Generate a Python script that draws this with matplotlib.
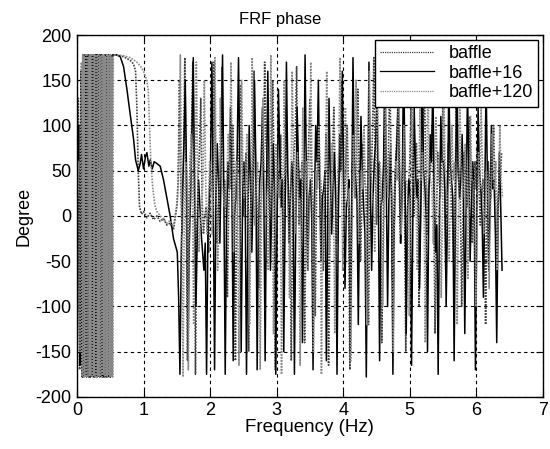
import numpy as np
import matplotlib
matplotlib.use("Agg")
import matplotlib.pyplot as plt

# ── Data ──────────────────────────────────────────────────────────────────────
series_names = ["baffle", "baffle+16", "baffle+120"]

# low-frequency wrap-around region: uniform grid starting near 0 Hz
low_step, low_count = 0.01, 55
low_starts = [0.000, 0.003, 0.006]
phase_low_baffle = [
    -10, 60, 130, -90, -170, 40, 150, -160, -178, 178, -176,
    177, -178, 178, -175, 178, -177, 176, -178, 178, -176, 178,
    -178, 177, -175, 178, -178, 178, -176, 178, -177, 178, -178,
    176, -177, 178, -175, 178, -178, 177, -176, 178, -178, 178,
    -177, 176, -178, 178, -176, 177, -178, 178, -175, 178, 178]
phase_low_b16 = [
    0, 40, 100, -60, -165, 80, 160, -140, -178, 176, -178,
    178, -174, 178, -178, 177, -176, 178, -178, 175, -178, 178,
    -177, 178, -178, 176, -178, 178, -175, 178, -178, 178, -176,
    178, -178, 177, -176, 178, -178, 175, -178, 178, -177, 178,
    -178, 176, -178, 178, -175, 178, -178, 177, -176, 178, 178]
phase_low_b120 = [
    20, 40, 60, -100, -150, 120, 170, -176, 178, -178, 176,
    -178, 178, -177, 178, -178, 175, -178, 178, -176, 178, -178,
    178, -177, 178, -176, 178, -178, 177, -178, 178, -176, 178,
    -178, 176, -177, 178, -178, 178, -175, 178, -178, 177, -176,
    178, -178, 178, -176, 178, -177, 178, -178, 176, -178, 178]

# smooth transition region
freq_mid_baffle = [0.60, 0.70, 0.80, 0.85, 0.88, 0.90, 0.92, 0.94, 0.97, 1.00, 1.05, 1.10,
                   1.15, 1.20, 1.25, 1.30, 1.35, 1.40, 1.45]
phase_mid_baffle = [178, 176, 172, 168, 160, 120, 50, 10, 2, 5, -2, 3,
                    -4, 0, -6, -3, -10, -8, -15]
freq_mid_b16 = [0.60, 0.65, 0.70, 0.75, 0.80, 0.85, 0.88, 0.92, 0.95, 0.97, 1.00, 1.03,
                1.05, 1.08, 1.10, 1.13, 1.16, 1.20, 1.25, 1.30, 1.35, 1.40, 1.45]
phase_mid_b16 = [178, 176, 165, 140, 112, 85, 62, 50, 58, 68, 52, 66,
                 70, 55, 62, 52, 60, 58, 55, 40, 20, 0, -25]
freq_mid_b120 = [0.60, 0.70, 0.80, 0.90, 0.96, 1.00, 1.04, 1.07, 1.09, 1.11, 1.14, 1.17,
                 1.20, 1.25, 1.30, 1.35, 1.40, 1.45]
phase_mid_b120 = [178, 177, 175, 170, 165, 160, 152, 140, 100, 60, 30, 12,
                  5, 0, -3, -8, -5, -12]

# noisy high-frequency region: uniform grid from about 1.5 Hz
high_step, high_count = 0.02, 245
high_starts = [1.500, 1.507, 1.513]
phase_high_baffle = [
    10, 40, 150, 30, -20, 60, 175, 20, -160, 10, 60, 90, 170, 40, -175, -20, 40, 70, 130, 20,
    -20, 0, 10, -10, -40, 20, 30, 60, 170, 50, -30, 10, 20, 70, 165, 40, 40, 0, -90, 10,
    60, 30, 100, 50, -160, -20, 50, 80, 145, 60, 0, 30, 70, 20, -150, -10, 30, 60, 160, 50,
    20, -10, -80, 10, 40, 70, 170, 80, 60, 20, -20, 40, 150, 60, -170, -30, 50, 20, 90, 30,
    -50, 20, 120, 50, 30, -20, -160, 0, 70, 90, 165, 40, -10, 30, 60, 20, -140, -10, 40, 80,
    130, 60, 20, -10, -110, 30, 80, 40, 40, 10, -60, 20, 90, 50, -165, -20, 50, 70, 120, 40,
    -30, 20, 40, 80, 150, 50, 10, 60, 100, 30, -170, -20, 60, 40, 20, 70, 140, 50, -50, 10,
    80, 40, 30, -10, -120, 20, 40, 90, 175, 60, -10, 30, 60, 10, -140, -20, 90, 50, 30, 70,
    160, 60, -70, 10, 50, 80, 110, 40, -30, 20, 70, 30, -150, -10, 30, 60, 120, 50, 0, 40,
    80, 30, -100, 0, 60, 90, 150, 50, -20, 30, 40, 60, 100, 20, -130, -10, 70, 40, 20, 60,
    130, 50, -60, 20, 80, 40, 30, 0, -50, 30, 120, 60, 50, 20, -100, 0, 70, 40, 10, 50,
    110, 40, -30, 20, 60, 30, 90, 40, -10, 20, 40, 10, -120, 0, 60, 30, 20, 50, 100, 30,
    -50, 10, 30, 40, 70]
phase_high_b16 = [
    -40, -90, -175, -40, 30, 80, 150, 40, -160, -30, 20, 90, 175, 30, -100, -20, 40, 10, -20, -40,
    -60, -30, -175, -20, 20, 60, 170, 30, -170, 10, 80, 40, -30, 60, 178, 20, -175, -10, 60, 30,
    120, 40, -160, 0, 20, 70, 175, 50, -150, 10, 60, 20, -175, -20, 100, 40, -40, 30, 150, 60,
    -170, -10, 40, 60, 120, 30, -160, 20, 160, 50, -60, 10, 80, 30, -175, 0, 140, 70, 10, 40,
    -150, 0, 170, 50, -30, 20, 60, 30, -175, -10, 120, 60, 20, 40, -140, 10, 178, 40, -60, 20,
    40, 0, -170, 10, 100, 60, 150, 30, -50, 20, 30, 50, -160, -10, 130, 40, -20, 30, 70, 20,
    -175, 0, 90, 50, 160, 30, -80, 10, 20, 40, -150, 0, 175, 60, 40, 20, -120, 10, 110, 50,
    10, -20, -178, 0, 170, 40, -60, 20, 60, 80, 130, 30, -160, 10, 20, 60, 175, 40, -100, 20,
    70, 20, -175, -10, 50, 80, 140, 40, -30, 30, 178, 60, -130, 10, 40, 20, -165, 0, 120, 50,
    20, 40, -80, 10, 178, 50, 30, 0, -150, 20, 90, 60, 150, 30, -40, -10, -175, 10, 110, 60,
    60, 30, -100, 0, 150, 60, 40, 20, -160, 0, 170, 50, 20, 40, 90, 30, -130, 10, 140, 60,
    -50, 10, 60, 30, -170, -10, 120, 50, 30, 0, -90, 20, 150, 40, -60, 10, 100, 30, 40, -20,
    -140, 0, 70, 10, -60]
phase_high_b120 = [
    20, 80, 178, 20, -178, 10, 60, 30, -170, 0, 90, 40, -120, 10, 170, 50, -40, -10, 10, 40,
    150, 40, -20, 10, 60, 20, -20, 30, 175, 50, -60, 0, 130, 40, 30, 10, 10, 50, 90, 30,
    170, 60, -40, 10, 60, 30, -165, -10, 150, 50, 20, 40, 90, 20, -120, 0, 175, 40, -10, 30,
    60, 20, -170, 0, 130, 50, 30, 10, -60, 20, 178, 40, -130, 10, 80, 30, 20, 40, -175, -20,
    150, 50, 40, 10, -90, 20, 160, 60, -20, 30, 70, 20, -165, 0, 120, 40, 30, 60, -60, 10,
    170, 40, -150, 0, 50, 30, 100, 60, -175, -10, 20, 50, 160, 40, -40, 10, 80, 30, -130, 0,
    40, 70, 175, 50, -60, 10, 120, 40, 10, 30, -160, -10, 90, 20, 150, 60, -30, 20, 50, 30,
    100, 40, -120, 0, 160, 50, 30, 10, -40, 20, 175, 60, 60, 30, -100, 0, 130, 40, 20, 60,
    80, 20, -150, 10, 60, 40, 170, 50, -20, 30, 100, 40, 40, 10, -110, 0, 150, 50, 30, 20,
    -60, 10, 120, 40, 70, 20, -140, 0, 160, 50, 40, 30, -30, 20, 110, 60, 60, 30, -90, 10,
    140, 50, 30, 10, -50, 20, 100, 40, 60, 30, -120, 0, 130, 50, 20, 40, 80, 30, -70, 10,
    110, 40, 40, 20, -100, 0, 70, 30, 120, 50, -20, 10, 50, 30, -80, 0, 90, 40, 30, 60,
    -60, 10, 100, 40, 20]

x_ticks = [0, 1, 2, 3, 4, 5, 6, 7]
y_ticks = [-200, -150, -100, -50, 0, 50, 100, 150, 200]

low_phases = [phase_low_baffle, phase_low_b16, phase_low_b120]
mid_freqs = [freq_mid_baffle, freq_mid_b16, freq_mid_b120]
mid_phases = [phase_mid_baffle, phase_mid_b16, phase_mid_b120]
high_phases = [phase_high_baffle, phase_high_b16, phase_high_b120]

styles = [
    dict(color="#404040", linestyle=(0, (1, 0.8)), linewidth=1.2),
    dict(color="black", linestyle="-", linewidth=1.1),
    dict(color="#8a8a8a", linestyle=(0, (1, 0.8)), linewidth=1.2),
]

plt.rcParams.update({
    "font.family": "Liberation Sans",
    "axes.unicode_minus": False,
    "xtick.direction": "in",
    "ytick.direction": "in",
})

fig = plt.figure(figsize=(5.5, 4.49), dpi=100)
ax = fig.add_axes([0.14, 0.116, 0.847, 0.806])

for i, name in enumerate(series_names):
    f = np.concatenate([low_starts[i] + low_step * np.arange(low_count),
                        mid_freqs[i],
                        high_starts[i] + high_step * np.arange(high_count)])
    p = np.concatenate([low_phases[i], mid_phases[i], high_phases[i]])
    ax.plot(f, p, label=name, **styles[i])

ax.set_xlim(0, 7)
ax.set_ylim(-200, 200)
ax.set_xticks(x_ticks)
ax.set_yticks(y_ticks)
ax.tick_params(labelsize=13, length=5, width=0.8, top=True, right=True, pad=4)
ax.grid(True, color="black", linestyle=(0, (3, 3)), linewidth=0.8)
for s in ax.spines.values():
    s.set_linewidth(1.0)

ax.set_title("FRF phase", fontsize=12, pad=8, x=0.437)
ax.set_xlabel("Frequency (Hz)", fontsize=13.5, labelpad=0)
ax.set_ylabel("Degree", fontsize=13, labelpad=2)

leg = ax.legend(loc="upper right", fontsize=13, fancybox=False, framealpha=1,
                edgecolor="black", borderaxespad=0.25, handlelength=3.0,
                handletextpad=0.8, labelspacing=0.15, borderpad=0.3)
leg.get_frame().set_linewidth(1.0)
for h in leg.get_lines():
    h.set_linewidth(0.9)

fig.savefig("out.png", dpi=100)
